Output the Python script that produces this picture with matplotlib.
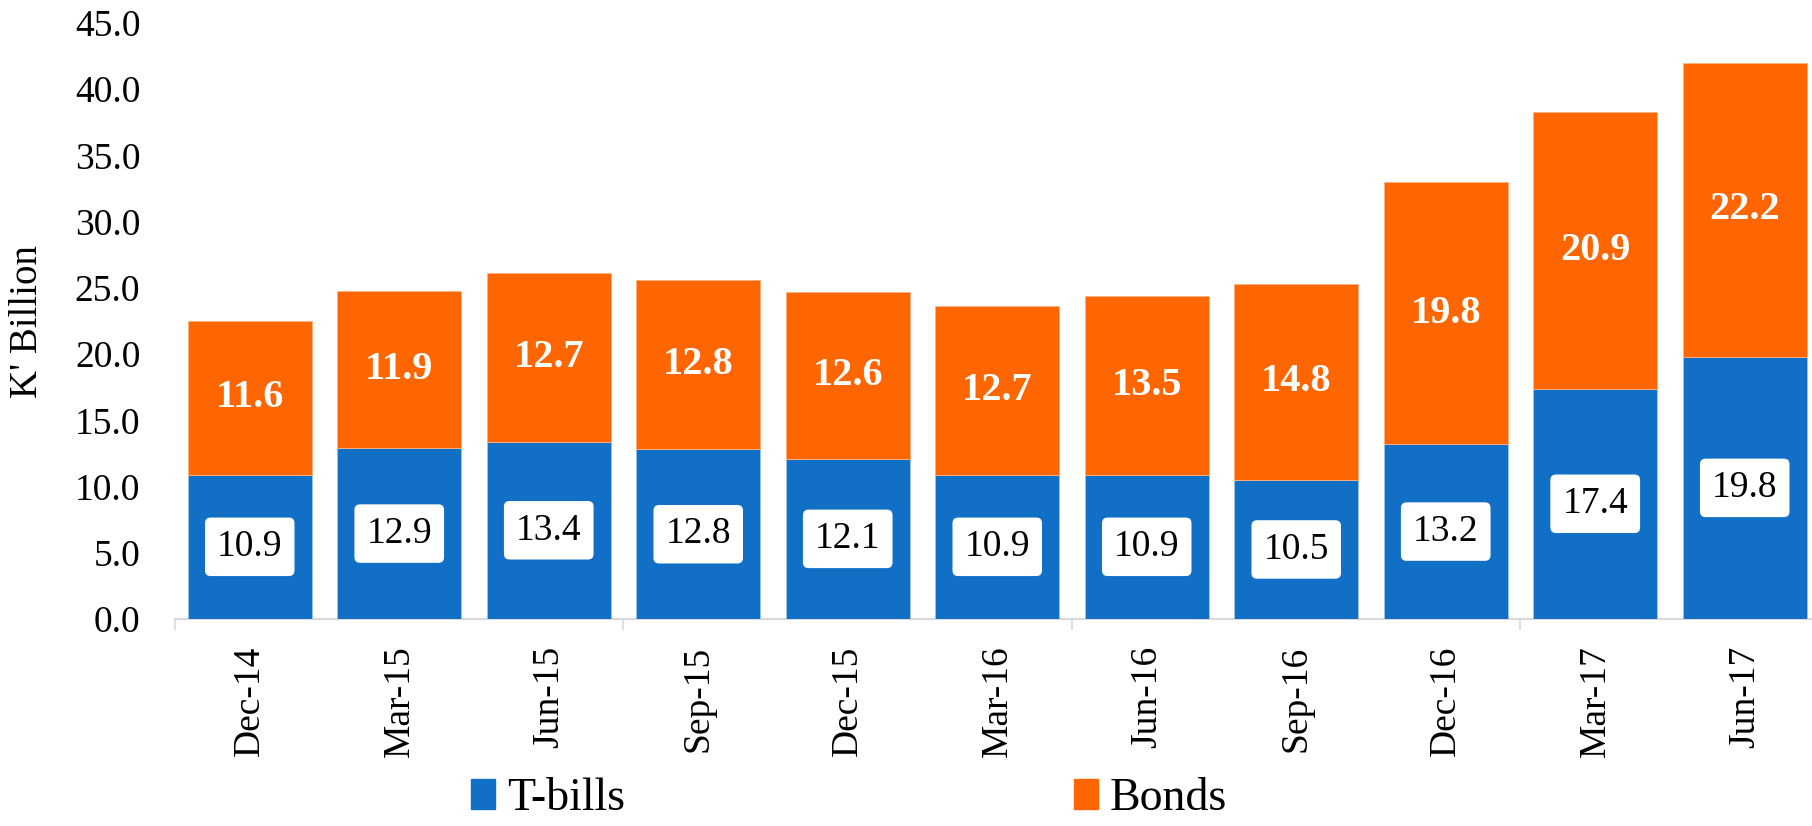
import matplotlib
matplotlib.use("Agg")
import matplotlib.pyplot as plt
from matplotlib.patches import Patch
from matplotlib.ticker import FixedLocator

categories = ["Dec-14", "Mar-15", "Jun-15", "Sep-15", "Dec-15", "Mar-16",
              "Jun-16", "Sep-16", "Dec-16", "Mar-17", "Jun-17"]
tbills = [10.9, 12.9, 13.4, 12.8, 12.1, 10.9, 10.9, 10.5, 13.2, 17.4, 19.8]
bonds = [11.6, 11.9, 12.7, 12.8, 12.6, 12.7, 13.5, 14.8, 19.8, 20.9, 22.2]
yticks = [0, 5, 10, 15, 20, 25, 30, 35, 40, 45]

BLUE = "#1170C6"
ORANGE = "#FF6600"
FONT = "Liberation Serif"

plt.rcParams["font.family"] = [FONT, "DejaVu Serif"]

fig = plt.figure(figsize=(18.12, 8.26), dpi=100)
ax = fig.add_axes([175 / 1812, 207 / 826, 1637 / 1812, 596 / 826])

x = list(range(len(categories)))
ax.bar(x, tbills, width=0.83, color=BLUE, edgecolor="#9EC3E8", linewidth=0.6, label="T-bills", zorder=2)
ax.bar(x, bonds, width=0.83, bottom=tbills, color=ORANGE, edgecolor="#FFB27F", linewidth=0.6, label="Bonds", zorder=2)

for xi, t, b in zip(x, tbills, bonds):
    ax.text(xi, t / 2, f"{t:.1f}", ha="center", va="center", fontsize=27, color="black",
            bbox=dict(boxstyle="round,pad=0.32,rounding_size=0.15", fc="white", ec="none"), zorder=3)
    ax.text(xi, t + b / 2, f"{b:.1f}", ha="center", va="center", fontsize=29, color="white",
            fontweight="bold", zorder=3)

ax.set_xlim(-0.5, 10.45)
ax.set_ylim(0, 45)
ax.set_yticks(yticks)
ax.set_yticklabels([f"{v:.1f}" for v in yticks], fontsize=27)
ax.set_xticks(x)
ax.set_xticklabels(categories, rotation=90, fontsize=27, va="top", ha="center")
ax.tick_params(axis="x", which="major", length=0, pad=19)
ax.tick_params(axis="y", which="major", length=0, pad=25)
ax.xaxis.set_minor_locator(FixedLocator([-0.5, 2.5, 5.5, 8.5]))
ax.tick_params(axis="x", which="minor", length=8, width=1.2, color="#D9D9D9")

for s in ["left", "top", "right"]:
    ax.spines[s].set_visible(False)
ax.spines["bottom"].set_color("#D9D9D9")
ax.spines["bottom"].set_linewidth(1.5)
ax.spines["bottom"].set_zorder(1)

ax.set_ylabel("K' Billion", fontsize=28)
ax.yaxis.set_label_coords(-0.079, 0.5)

handles = [Patch(color=BLUE), Patch(color=ORANGE)]
fig.legend(handles, ["T-bills", "Bonds"], loc="center left",
           bbox_to_anchor=(471 / 1812, 27 / 826), ncol=2, frameon=False,
           fontsize=33, handlelength=0.53, handleheight=0.64, handletextpad=0.25,
           columnspacing=9.8, borderpad=0, borderaxespad=0)

fig.savefig("out.png", dpi=100)
